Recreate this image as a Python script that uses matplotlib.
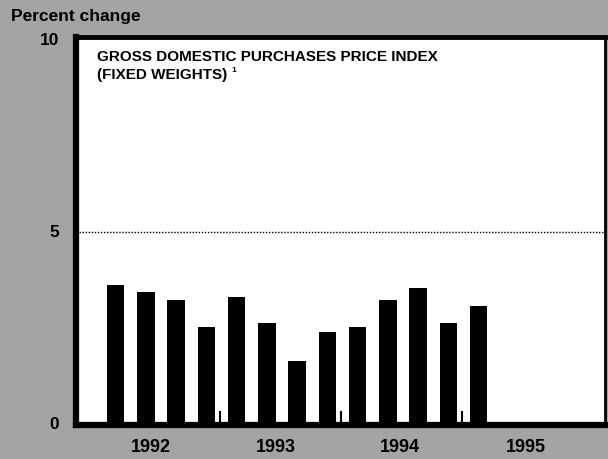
import matplotlib
matplotlib.use('Agg')
import matplotlib.pyplot as plt

plt.rcParams['font.family'] = ['Liberation Sans', 'DejaVu Sans']

# Quarterly percent change, 1992Q1 - 1995Q1
quarters = ['92Q1', '92Q2', '92Q3', '92Q4', '93Q1', '93Q2', '93Q3', '93Q4',
            '94Q1', '94Q2', '94Q3', '94Q4', '95Q1']
values = [3.63, 3.44, 3.23, 2.53, 3.33, 2.63, 1.65, 2.42,
          2.53, 3.23, 3.55, 2.63, 3.09]
years = ['1992', '1993', '1994', '1995']
year_label_pos = [1.72, 5.85, 9.95, 14.1]
year_breaks = [4, 8, 12]
y_ticks = [0, 5, 10]

bg = '#a4a4a4'
fig = plt.figure(figsize=(6.08, 4.59), dpi=100, facecolor=bg)
ax = fig.add_axes([75.5/608, (459-424.5)/459, (605-75.5)/608, (424.5-36.5)/459])
ax.set_facecolor('white')

x = [i + 0.55 for i in range(len(values))]
ax.bar(x, values, width=0.58, color='black', zorder=3)

# linea punteada en 5 por ciento
ax.axhline(5, color='black', linestyle=(0, (1, 1.2)), linewidth=1.0, zorder=2)

# marcas cortas entre años
for b in year_breaks:
    ax.plot([b, b], [0, 0.33], color='black', linewidth=1.5, zorder=3)

ax.set_xlim(-0.78, 16.73)
ax.set_ylim(0, 10.1)

for s in ['left', 'bottom']:
    ax.spines[s].set_linewidth(4.5)
ax.spines['top'].set_linewidth(3.5)
ax.spines['right'].set_linewidth(2)

ax.set_xticks([])
ax.set_yticks([])

for t in y_ticks:
    ax.text(-0.031, t, str(t), transform=ax.get_yaxis_transform(), ha='right', va='center',
            fontsize=12.5, fontweight='bold')
for yr, p in zip(years, year_label_pos):
    ax.text(p, -0.61, yr, ha='center', va='center', fontsize=13, fontweight='bold')

fig.text(11/608, 1 - 16/459, 'Percent change', ha='left', va='center', fontsize=12.5,
         fontweight='bold')

# titulo en dos lineas
ax.text(0.04, 0.966, 'GROSS DOMESTIC PURCHASES PRICE INDEX',
        transform=ax.transAxes, ha='left', va='top', fontsize=11, fontweight='bold')
ax.text(0.04, 0.92, '(FIXED WEIGHTS)',
        transform=ax.transAxes, ha='left', va='top', fontsize=11, fontweight='bold')
# nota al pie (superindice)
ax.text(0.294, 0.912, '1', transform=ax.transAxes, ha='left', va='center',
        fontsize=6, fontweight='bold')

fig.savefig('out.png', dpi=100, facecolor=bg)
